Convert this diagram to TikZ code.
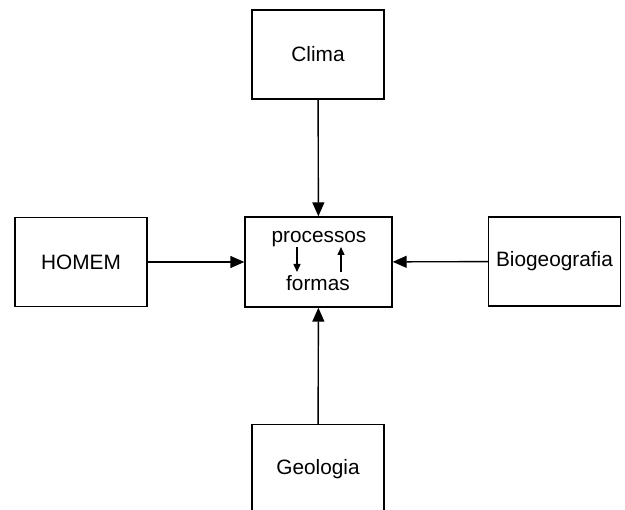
\documentclass[tikz,border=0pt]{standalone}
\usepackage{fontspec}
\setmainfont{Liberation Sans}
\usetikzlibrary{arrows.meta}

\tikzset{
    caixa/.style={draw, line width=1.4pt, minimum width=132pt, minimum height=89pt, inner sep=0pt, font=\fontsize{20.8}{24}\selectfont},
    seta/.style={line width=1.4pt, -{Triangle[length=14pt,width=12pt]}},
    setinha/.style={line width=1.3pt, -{Triangle[length=8pt,width=7pt]}},
}

\begin{document}
\begin{tikzpicture}[x=1pt, y=-1pt]
        \clip (0,0) rectangle (625,510);

        \node[caixa] (clima) at (318, 54.5) {Clima};
        \node[caixa] (homem) at (81, 262) {HOMEM};
        \node[caixa] (bio) at (554.5, 261.5) {Biogeografia};
        \node[caixa] (geologia) at (318, 469) {Geologia};
        \node[caixa, minimum width=147pt, minimum height=90pt] (centro) at (318.5, 262) {};

        \node[font=\fontsize{20.8}{24}\selectfont] (processos) at (319, 239) {processos};
        \node[font=\fontsize{20.8}{24}\selectfont] (formas) at (318, 283) {formas};

        \coordinate (desce1) at (297, 247);
        \coordinate (desce2) at (297, 272);
        \coordinate (sobe1) at (341, 272);
        \coordinate (sobe2) at (341, 247);

        \draw[seta] (clima) -- (centro);
        \draw[seta] (geologia) -- (centro);
        \draw[seta] (homem) -- (centro);
        \draw[seta] (bio) -- (centro);

        \draw[setinha] (desce1) -- (desce2);
        \draw[setinha] (sobe1) -- (sobe2);

    \end{tikzpicture}
\end{document}
